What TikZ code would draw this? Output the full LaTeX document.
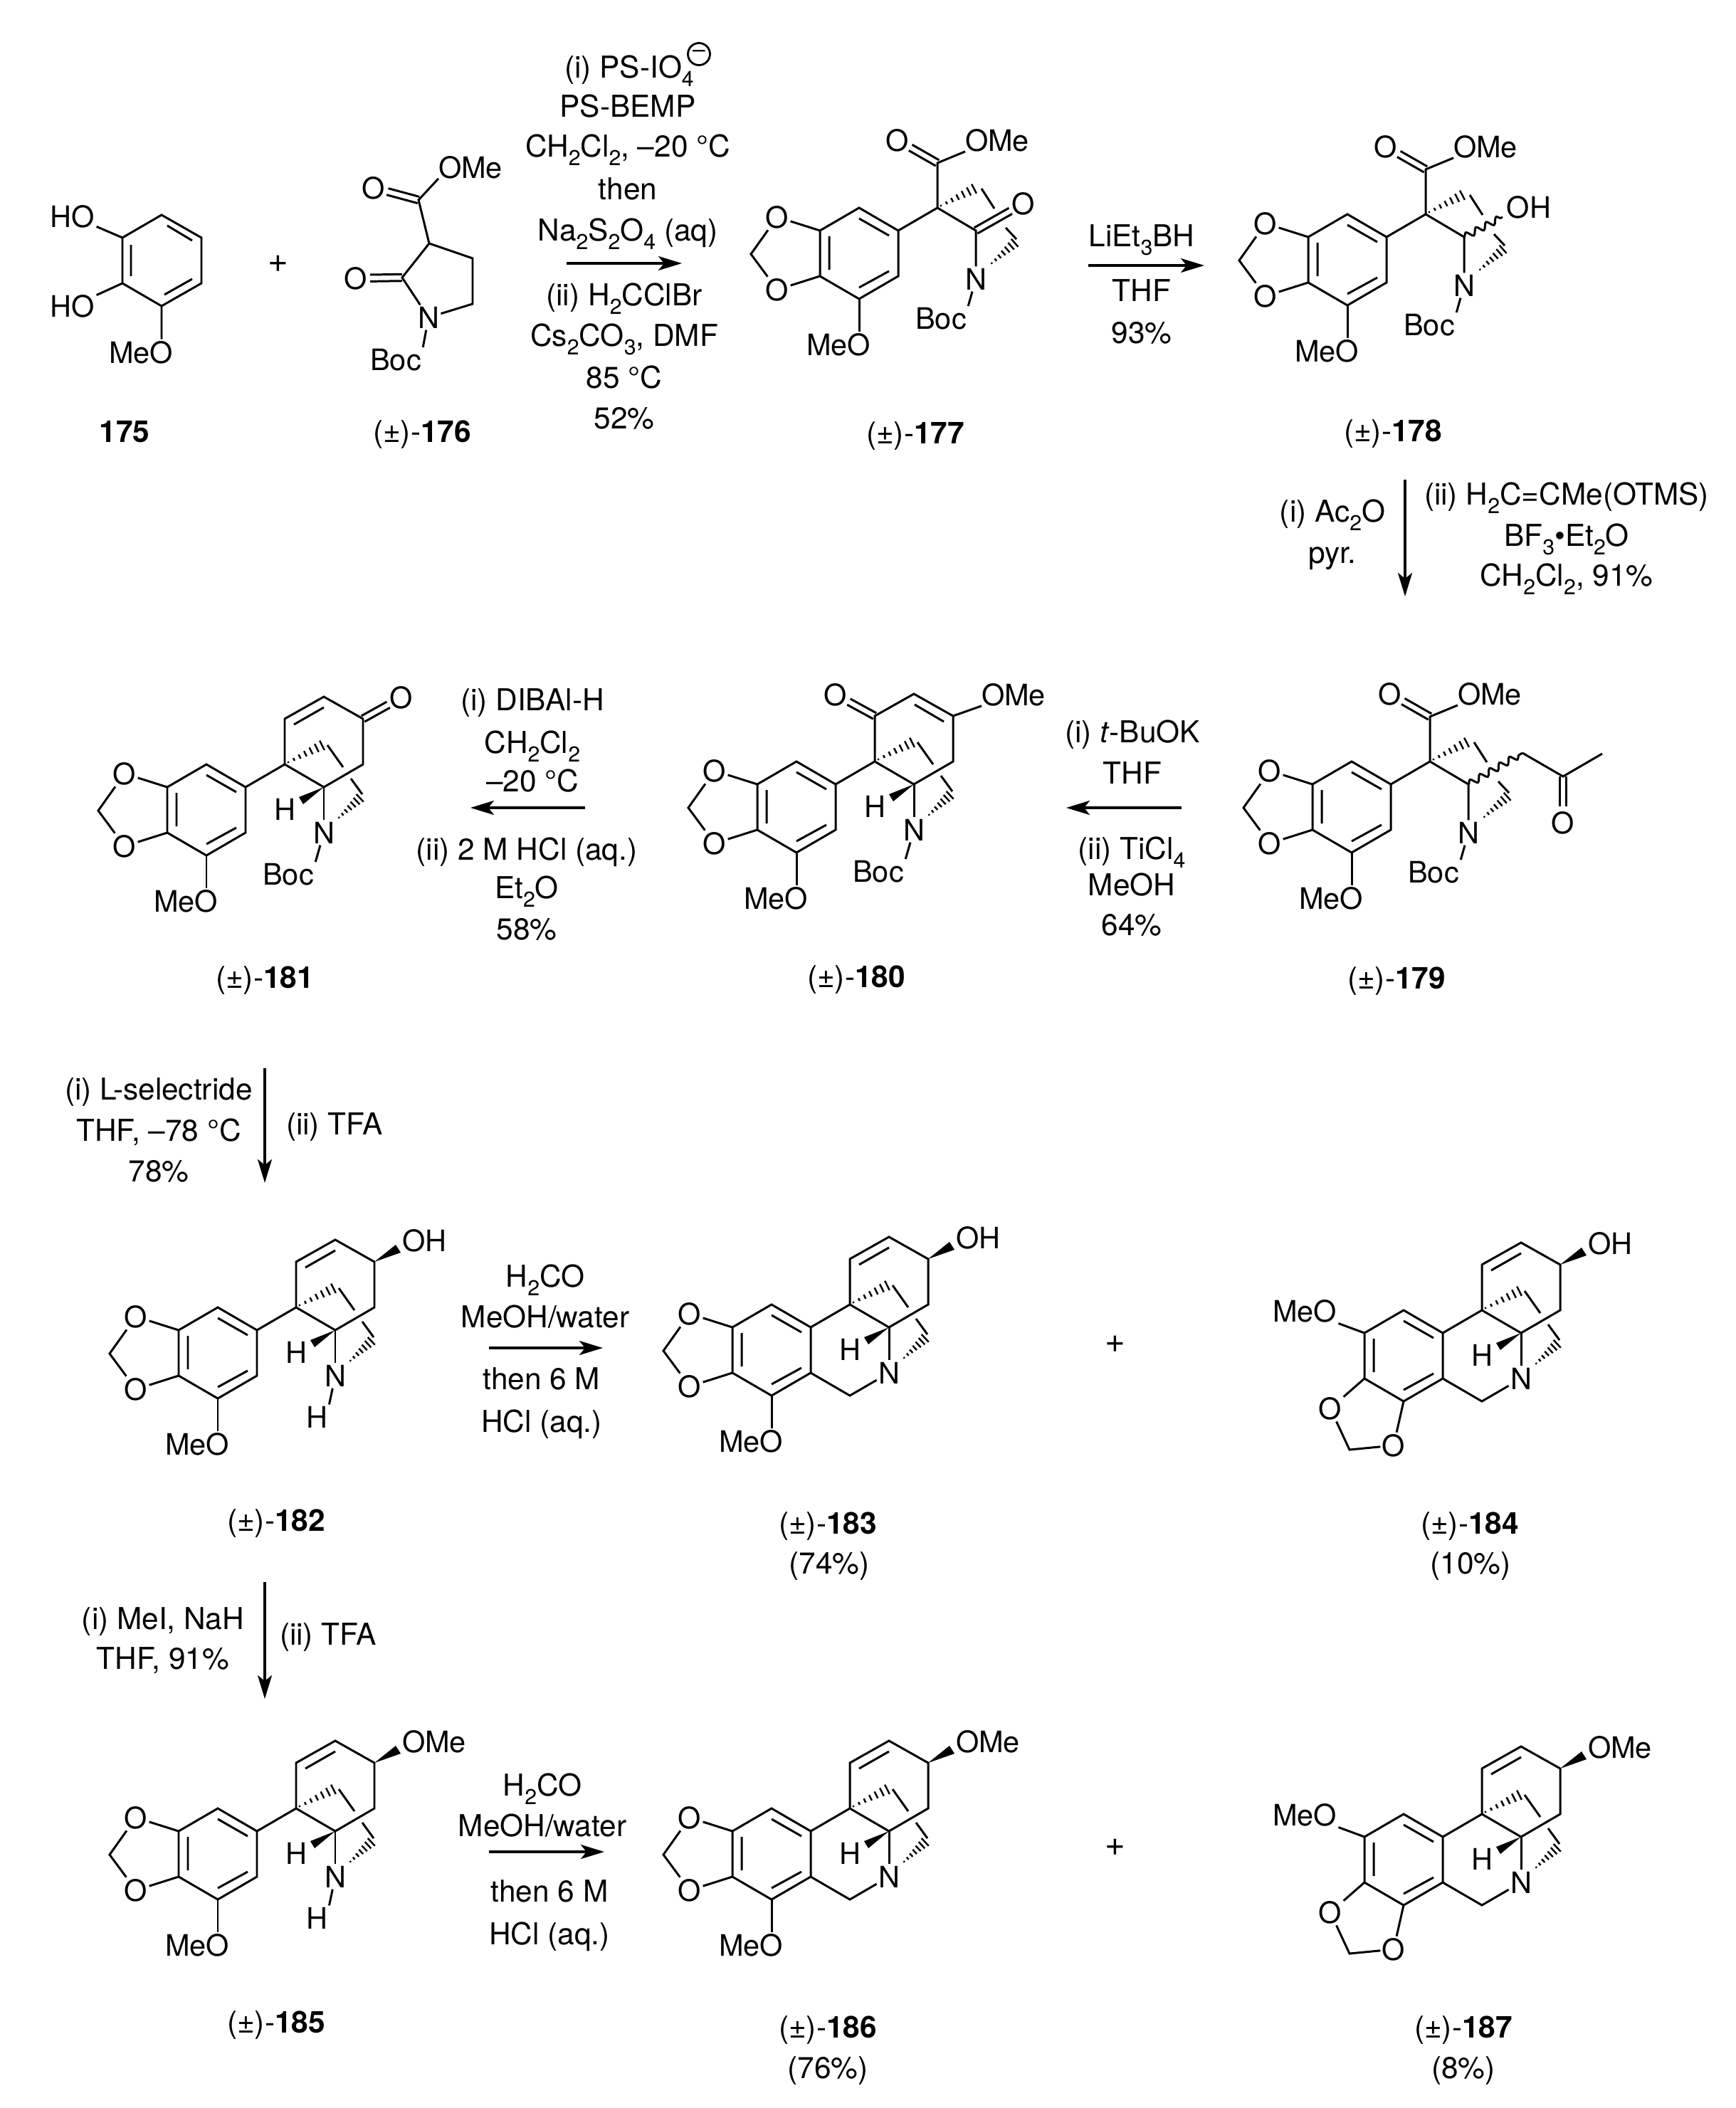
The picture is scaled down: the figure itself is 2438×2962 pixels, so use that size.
\documentclass[tikz,border=0pt]{standalone}
\usepackage{fontspec}
\setmainfont{TeX Gyre Heros}
\usetikzlibrary{calc,arrows.meta,decorations.pathmorphing}
\newcommand{\sbt}[1]{\raisebox{-0.3em}{\fontsize{8.6}{9}\selectfont #1}}
\tikzset{
 bond/.style={line width=.85pt,line cap=butt,line join=miter},
 hashl/.style={line width=.7pt},
 wave/.style={line width=.85pt,decorate,decoration={snake,segment length=.16cm,amplitude=.045cm}},
 atom/.style={inner sep=.025cm,outer sep=0,font=\fontsize{11.8}{14}\selectfont},
 plussign/.style={inner sep=0,outer sep=0,font=\fontsize{14}{14}\selectfont},
 txt/.style={inner sep=0,outer sep=0,anchor=base,font=\fontsize{12.05}{14}\selectfont},
 rxn/.style={line width=1pt,-{Stealth[length=.33cm,width=.2cm,inset=.08cm]}},
}
\newcommand{\rg}[4]{\node[txt] (#1) at (#2,{#3+15}) {#4};}
\newcommand{\dbond}[3]{%
 \draw[bond,shorten >=#3] ($(#1)!.047cm!90:(#2)$) -- ($(#2)!.047cm!-90:(#1)$);
 \draw[bond,shorten >=#3] ($(#1)!.047cm!-90:(#2)$) -- ($(#2)!.047cm!90:(#1)$);}
\newcommand{\hashb}[2]{\foreach \hT/\hW in {.04/.3,.2/.6,.36/.9,.52/1.2,.68/1.5,.84/1.8,.99/2.1}{%
 \draw[hashl] ($(#1)!\hT!(#2)!\hW pt!90:(#2)$) -- ($(#1)!\hT!(#2)!\hW pt!-90:(#2)$);}}
% aromatic ring with apex at the scope origin
\newcommand{\arring}{%
 \coordinate (a1) at (0,0); \coordinate (a2) at (55,32); \coordinate (a3) at (55,96);
 \coordinate (a4) at (0,128); \coordinate (a5) at (-55,96); \coordinate (a6) at (-55,32);
 \draw[bond] (a1)--(a2)--(a3)--(a4)--(a5)--(a6)--cycle;
 \draw[bond] (0,15)--(42,39) (42,89)--(0,112) (-42,40)--(-42,87);}
% methylenedioxy left, OMe below
\newcommand{\dioxA}[1]{%
 \node[atom] (#1O1) at (-115,13) {O};
 \node[atom] (#1O2) at (-115,115) {O};
 \coordinate (#1Cm) at (-152,65);
 \node[atom] (#1MeO) at (-29,192) {MeO};
 \draw[bond] (a6)--(#1O1)--(#1Cm)--(#1O2)--(a5);
 \draw[bond] (a4)--(a4 |- #1MeO.north);}
% OMe left, methylenedioxy below
\newcommand{\dioxB}[1]{%
 \node[atom] (#1MeO) at (-139,1) {MeO};
 \node[atom] (#1O1) at (-103,138) {O};
 \node[atom] (#1O2) at (-14,190) {O};
 \coordinate (#1Cm) at (-76,196);
 \draw[bond] (a6)--(#1MeO) (a5)--(#1O1)--(#1Cm)--(#1O2)--(a4);}
% bridged tetracyclic part
\newcommand{\bicyc}[1]{%
 \coordinate (q) at (110,0); \coordinate (ch) at (165,32); \coordinate (tl) at (110,-64);
 \coordinate (tp) at (165,-95); \coordinate (tr) at (220,-64); \coordinate (br) at (220,0);
 \coordinate (hq) at (113,-2); \coordinate (he) at (163,-27);
 \coordinate (hn) at (185,76); \coordinate (hf) at (216,47);
 \draw[bond] (a2)--(q)--(ch)--(br)--(tr)--(tp)--(tl)--(q);
 \hashb{hq}{he}
 \hashb{hn}{hf}
 \draw[bond] (170,-27)--(192,4) (203,20)--(219,42);
 \fill (ch)--(130,46)--(136,56)--cycle;
 \node[atom] (#1H) at (110,63) {H};
 \node[atom] (#1N) at (165,96) {N};
 \draw[bond] (ch)--(#1N);}
\newcommand{\dblL}{\draw[bond] (123,-56)--(165,-80);}
\newcommand{\wedgeup}[2]{\fill (tr)--(250,-88)--(257,-77)--cycle;
 \node[atom,anchor=west,inner sep=0] (#1X) at (259,-94) {#2};}
\newcommand{\bocN}[1]{\node[atom] (#1Boc) at (115,155) {Boc}; \draw[bond] (#1N)--(#1Boc.north east);}
\newcommand{\hN}[1]{\node[atom] (#1HN) at (139,154) {H}; \draw[bond] (#1N)--(#1HN.north east);}
\newcommand{\clN}[1]{\coordinate (cb) at (110,128); \draw[bond] (a3)--(cb)--(#1N);}
% open-chain aryl ester part
\newcommand{\opencore}[1]{%
 \coordinate (q) at (110,0); \coordinate (ce) at (110,-63); \coordinate (lac) at (164,32);
 \coordinate (hq) at (113,-2); \coordinate (he) at (162,-27);
 \coordinate (hn) at (185,79); \coordinate (hf) at (219,49);
 \node[atom] (#1Oc) at (54,-95) {O};
 \node[atom,anchor=west,inner sep=0] (#1OMe) at (149,-95) {OMe};
 \node[atom] (#1N) at (164,100) {N};
 \node[atom] (#1Boc) at (115,156) {Boc};
 \dbond{ce}{#1Oc}{.21cm}
 \draw[bond] (a2)--(q)--(lac)--(#1N)--(#1Boc.north east);
 \draw[bond] (q)--(ce)--(#1OMe.south west);
 \hashb{hq}{he}
 \hashb{hn}{hf}
 \draw[bond] (172,-27)--(190,1) (206,28)--(221,44);}
\begin{document}
\begin{tikzpicture}[x=0.01cm,y=-0.01cm]
\useasboundingbox (0,0) rectangle (2438,2962);
% 175
\coordinate (r1) at (172,334); \coordinate (r2) at (227,302); \coordinate (r3) at (283,334);
\coordinate (r4) at (283,398); \coordinate (r5) at (227,430); \coordinate (r6) at (172,398);
\draw[bond] (r1)--(r2)--(r3)--(r4)--(r5)--(r6)--cycle;
\draw[bond] (184,344)--(184,388) (235,317)--(270,338) (270,392)--(231,414);
\node[atom] (HOa) at (102,304) {HO};
\node[atom] (HOb) at (102,430) {HO};
\node[atom] (MeOa) at (198,495) {MeO};
\draw[bond] (r1)--(HOa) (r6)--(HOb) (r5)--(r5 |- MeOa.north);
\rg{l175}{175}{606}{\textbf{175}}
\node[plussign] (plusa) at (391,371) {+};
% 176
\coordinate (c1) at (588,281); \coordinate (c2) at (603,342); \coordinate (c3) at (664,363);
\coordinate (c4) at (664,427); \coordinate (c5) at (565,390);
\node[atom] (Oa) at (525,264) {O};
\node[atom,anchor=west,inner sep=0] (OMea) at (616,235) {OMe};
\node[atom] (Ob) at (500,391) {O};
\node[atom] (Na) at (602,446) {N};
\node[atom] (Boca) at (556,506) {Boc};
\dbond{c1}{Oa}{.2cm}
\dbond{c5}{Ob}{.2cm}
\draw[bond] (OMea.south west)--(c1)--(c2)--(c3)--(c4)--(Na)--(c5)--(c2) (Na)--(Boca.north east);
\rg{l176}{593}{606}{(±)-\textbf{176}}
% reagents 176->177
\rg{t1a}{884}{94}{(i) PS-IO\sbt{4}}
\node[circle,draw,line width=.8pt,minimum size=.31cm,inner sep=0,font=\fontsize{9}{9}\selectfont] (chg) at (982,76) {–};
\rg{t1b}{882}{149}{PS-BEMP}
\rg{t1c}{882}{205}{CH\sbt{2}Cl\sbt{2}, –20 °C}
\rg{t1d}{882}{265}{then}
\rg{t1e}{882}{323}{Na\sbt{2}S\sbt{2}O\sbt{4} (aq)}
\coordinate (ar1s) at (796,370); \coordinate (ar1e) at (958,370);
\draw[rxn] (ar1s)--(ar1e);
\rg{t1f}{877}{414}{(ii) H\sbt{2}CClBr}
\rg{t1g}{877}{471}{Cs\sbt{2}CO\sbt{3}, DMF}
\rg{t1h}{877}{530}{85 °C}
\rg{t1i}{877}{587}{52\%}
% 177
\begin{scope}[shift={(1207,292)}]
\arring \dioxA{sg} \opencore{sg}
\node[atom] (sgOl) at (231,-6) {O};
\dbond{lac}{sgOl}{.21cm}
\end{scope}
\rg{l177}{1286}{608}{(±)-\textbf{177}}
% 177->178
\coordinate (ar2s) at (1529,373); \coordinate (ar2e) at (1692,373);
\draw[rxn] (ar2s)--(ar2e);
\rg{t2a}{1604}{331}{LiEt\sbt{3}BH}
\rg{t2b}{1604}{408}{THF}
\rg{t2c}{1604}{467}{93\%}
% 178
\begin{scope}[shift={(1893,301)}]
\arring \dioxA{sh} \opencore{sh}
\coordinate (wv) at (218,4);
\node[atom] (shOH) at (255,-10) {OH};
\draw[wave] (lac)--(wv);
\end{scope}
\rg{l178}{1957}{605}{(±)-\textbf{178}}
% 178->179
\coordinate (ar3s) at (1974,674); \coordinate (ar3e) at (1974,838);
\draw[rxn] (ar3s)--(ar3e);
\rg{t3a}{1872}{718}{(i) Ac\sbt{2}O}
\rg{t3b}{1872}{776}{pyr.}
\rg{t3c}{2201}{694}{(ii) H\sbt{2}C=CMe(OTMS)}
\rg{t3d}{2201}{752}{BF\sbt{3}•Et\sbt{2}O}
\rg{t3e}{2201}{808}{CH\sbt{2}Cl\sbt{2}, 91\%}
% 179
\begin{scope}[shift={(1899,1070)}]
\arring \dioxA{si} \opencore{si}
\coordinate (wv) at (240,-12); \coordinate (ck) at (297,21); \coordinate (cm) at (352,-11);
\node[atom] (siOk) at (297,86) {O};
\draw[wave] (lac)--(wv);
\draw[bond] (wv)--(ck)--(cm);
\dbond{ck}{siOk}{.23cm}
\end{scope}
\rg{l179}{1962}{1374}{(±)-\textbf{179}}
% 179->180
\coordinate (ar4s) at (1660,1135); \coordinate (ar4e) at (1498,1135);
\draw[rxn] (ar4s)--(ar4e);
\rg{t4a}{1591}{1028}{(i) \textit{t}-BuOK}
\rg{t4b}{1591}{1086}{THF}
\rg{t4c}{1590}{1192}{(ii) TiCl\sbt{4}}
\rg{t4d}{1590}{1243}{MeOH}
\rg{t4e}{1590}{1299}{64\%}
% 180
\begin{scope}[shift={(1119,1070)}]
\arring \dioxA{sj} \bicyc{sj} \bocN{sj}
\node[atom] (sjOk) at (55,-94) {O};
\node[atom,anchor=west,inner sep=0] (sjOMe) at (260,-94) {OMe};
\dbond{tl}{sjOk}{.21cm}
\draw[bond] (166,-80)--(207,-56) (tr)--(sjOMe.south west);
\end{scope}
\rg{l180}{1203}{1372}{(±)-\textbf{180}}
% 180->181
\coordinate (ar5s) at (822,1135); \coordinate (ar5e) at (661,1135);
\draw[rxn] (ar5s)--(ar5e);
\rg{t5a}{748}{983}{(i) DIBAl-H}
\rg{t5b}{748}{1043}{CH\sbt{2}Cl\sbt{2}}
\rg{t5c}{748}{1097}{–20 °C}
\rg{t5d}{740}{1193}{(ii) 2 M HCl (aq.)}
\rg{t5e}{740}{1247}{Et\sbt{2}O}
\rg{t5f}{740}{1305}{58\%}
% 181
\begin{scope}[shift={(290,1074)}]
\arring \dioxA{sk} \bicyc{sk} \bocN{sk} \dblL
\node[atom] (skOk) at (274,-94) {O};
\dbond{tr}{skOk}{.21cm}
\end{scope}
\rg{l181}{372}{1373}{(±)-\textbf{181}}
% 181->182
\coordinate (ar6s) at (372,1501); \coordinate (ar6e) at (372,1662);
\draw[rxn] (ar6s)--(ar6e);
\rg{t6a}{223}{1530}{(i) L-selectride}
\rg{t6b}{223}{1588}{THF, –78 °C}
\rg{t6c}{223}{1645}{78\%}
\rg{t6d}{470}{1579}{(ii) TFA}
% 182
\begin{scope}[shift={(306,1837)}]
\arring \dioxA{sl} \bicyc{sl} \hN{sl} \dblL \wedgeup{sl}{OH}
\end{scope}
\rg{l182}{388}{2136}{(±)-\textbf{182}}
% 182->183
\coordinate (ar7s) at (687,1894); \coordinate (ar7e) at (847,1894);
\draw[rxn] (ar7s)--(ar7e);
\rg{t7a}{766}{1793}{H\sbt{2}CO}
\rg{t7b}{766}{1850}{MeOH/water}
\rg{t7c}{761}{1937}{then 6 M}
\rg{t7d}{761}{1997}{HCl (aq.)}
% 183
\begin{scope}[shift={(1084,1833)}]
\arring \dioxA{sm} \bicyc{sm} \clN{sm} \dblL \wedgeup{sm}{OH}
\end{scope}
\rg{l183}{1163}{2140}{(±)-\textbf{183}}
\rg{y183}{1165}{2196}{(74\%)}
\node[plussign] (plusb) at (1567,1889) {+};
% 184
\begin{scope}[shift={(1972,1841)}]
\arring \dioxB{sn} \bicyc{sn} \clN{sn} \dblL \wedgeup{sn}{OH}
\end{scope}
\rg{l184}{2065}{2140}{(±)-\textbf{184}}
\rg{y184}{2066}{2196}{(10\%)}
% 182->185
\coordinate (ar8s) at (372,2223); \coordinate (ar8e) at (372,2387);
\draw[rxn] (ar8s)--(ar8e);
\rg{t8a}{229}{2274}{(i) MeI, NaH}
\rg{t8b}{229}{2330}{THF, 91\%}
\rg{t8c}{461}{2296}{(ii) TFA}
% 185
\begin{scope}[shift={(306,2541)}]
\arring \dioxA{so} \bicyc{so} \hN{so} \dblL \wedgeup{so}{OMe}
\end{scope}
\rg{l185}{388}{2841}{(±)-\textbf{185}}
% 185->186
\coordinate (ar9s) at (687,2602); \coordinate (ar9e) at (849,2602);
\draw[rxn] (ar9s)--(ar9e);
\rg{t9a}{762}{2508}{H\sbt{2}CO}
\rg{t9b}{762}{2565}{MeOH/water}
\rg{t9c}{772}{2657}{then 6 M}
\rg{t9d}{772}{2717}{HCl (aq.)}
% 186
\begin{scope}[shift={(1084,2541)}]
\arring \dioxA{sp} \bicyc{sp} \clN{sp} \dblL \wedgeup{sp}{OMe}
\end{scope}
\rg{l186}{1163}{2848}{(±)-\textbf{186}}
\rg{y186}{1163}{2905}{(76\%)}
\node[plussign] (plusc) at (1567,2596) {+};
% 187
\begin{scope}[shift={(1972,2549)}]
\arring \dioxB{sq} \bicyc{sq} \clN{sq} \dblL \wedgeup{sq}{OMe}
\end{scope}
\rg{l187}{2056}{2848}{(±)-\textbf{187}}
\rg{y187}{2056}{2905}{(8\%)}
\end{tikzpicture}
\end{document}
